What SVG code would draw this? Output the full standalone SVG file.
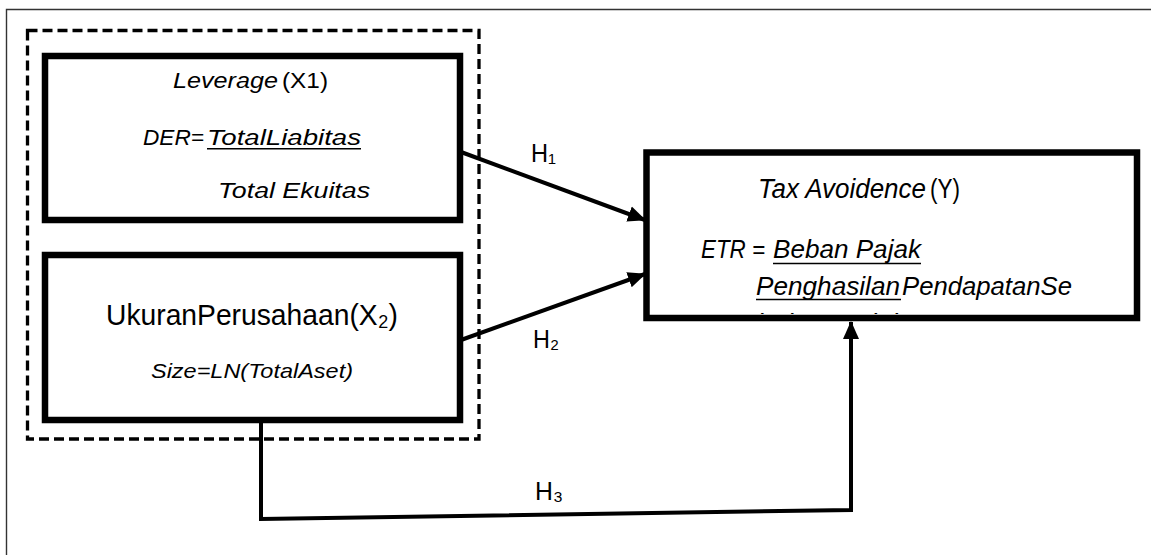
<svg xmlns="http://www.w3.org/2000/svg" width="1153" height="555" viewBox="0 0 1153 555">
<style>
  text { font-family: "Liberation Sans", "DejaVu Sans", Arial, sans-serif; fill: #000; }
  .it { font-style: italic; }
  .box { fill: #fff; stroke: #000; stroke-width: 6.5; }
  .ul { stroke: #000; stroke-width: 1.6; }
  .conn { fill: none; stroke: #000; stroke-width: 4; }
</style>
<defs>
  <marker id="arr" markerUnits="userSpaceOnUse" markerWidth="20" markerHeight="18" refX="17" refY="8" orient="auto" viewBox="0 0 20 16">
    <path d="M0,0 L18,8 L0,16 Z" fill="#000"/>
  </marker>
  <clipPath id="clipY">
    <rect x="650" y="150" width="484" height="164"/>
  </clipPath>
</defs>
<rect x="0" y="0" width="1153" height="555" fill="#fff"/>
<path d="M6.5,555 V9.5 H1151" fill="none" stroke="#333" stroke-width="1.4"/>

<g id="group-x">
  <rect x="27.5" y="30.5" width="451.5" height="408.5" fill="none" stroke="#000" stroke-width="3.3" stroke-dasharray="10 5"/>
</g>

<g id="node-x1">
  <rect class="box" x="45" y="56" width="415" height="164"/>
  <text class="it" x="173" y="88" font-size="22.5" textLength="105" lengthAdjust="spacingAndGlyphs">Leverage</text>
  <text x="282" y="88" font-size="22.5" textLength="46" lengthAdjust="spacingAndGlyphs">(X1)</text>
  <text class="it" x="143" y="145" font-size="22" textLength="61" lengthAdjust="spacingAndGlyphs">DER=</text>
  <text class="it" x="207" y="145" font-size="22" textLength="154" lengthAdjust="spacingAndGlyphs">TotalLiabitas</text>
  <line class="ul" x1="207" y1="148.8" x2="361" y2="148.8"/>
  <text class="it" x="218" y="198" font-size="22" textLength="152" lengthAdjust="spacingAndGlyphs">Total Ekuitas</text>
</g>

<g id="node-x2">
  <rect class="box" x="45" y="255" width="415" height="165"/>
  <text x="106" y="325" font-size="30" textLength="292" lengthAdjust="spacingAndGlyphs">UkuranPerusahaan(X₂)</text>
  <text class="it" x="151" y="378" font-size="21" textLength="202" lengthAdjust="spacingAndGlyphs">Size=LN(TotalAset)</text>
</g>

<g id="node-y">
  <rect class="box" x="646.5" y="152.5" width="490.5" height="165.5"/>
  <text class="it" x="758" y="198" font-size="27" textLength="168" lengthAdjust="spacingAndGlyphs">Tax Avoidence</text>
  <text x="930" y="198" font-size="27" textLength="30" lengthAdjust="spacingAndGlyphs">(Y)</text>
  <text class="it" x="701" y="258" font-size="26.5" textLength="64" lengthAdjust="spacingAndGlyphs">ETR =</text>
  <text class="it" x="773" y="258" font-size="26.5" textLength="148" lengthAdjust="spacingAndGlyphs">Beban Pajak</text>
  <line class="ul" x1="773" y1="263.5" x2="921" y2="263.5"/>
  <text class="it" x="756" y="295" font-size="26.5" textLength="144" lengthAdjust="spacingAndGlyphs">Penghasilan</text>
  <text class="it" x="902" y="295" font-size="26.5" textLength="170" lengthAdjust="spacingAndGlyphs">PendapatanSe</text>
  <line class="ul" x1="756" y1="299.5" x2="901" y2="299.5"/>
  <g clip-path="url(#clipY)">
    <text class="it" x="757" y="332" font-size="26.5" textLength="148" lengthAdjust="spacingAndGlyphs">belum Pajak</text>
  </g>
</g>

<g id="connectors">
  <line class="conn" x1="461" y1="152" x2="645" y2="220" marker-end="url(#arr)"/>
  <line class="conn" x1="461" y1="340" x2="645" y2="274" marker-end="url(#arr)"/>
  <path class="conn" d="M261,420 V519 L851,510 V322" stroke-width="3.6" marker-end="url(#arr)"/>
</g>

<g id="labels">
  <text x="531" y="162" font-size="26.5" textLength="25" lengthAdjust="spacingAndGlyphs">H₁</text>
  <text x="533" y="348" font-size="26.5" textLength="26" lengthAdjust="spacingAndGlyphs">H₂</text>
  <text x="535" y="500" font-size="26.5" textLength="28" lengthAdjust="spacingAndGlyphs">H₃</text>
</g>
</svg>
